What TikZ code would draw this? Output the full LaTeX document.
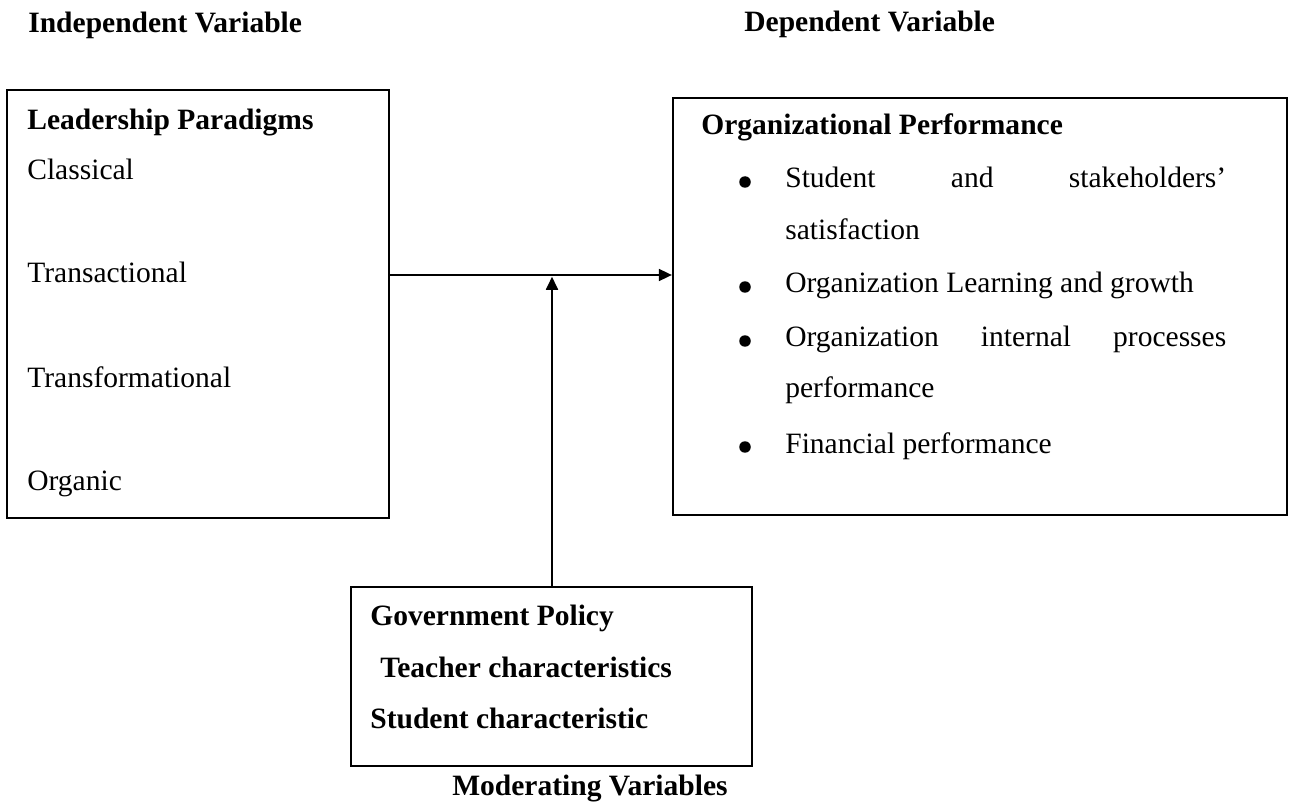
\documentclass[tikz,border=0pt]{standalone}
\usepackage{fontspec}
\setmainfont{Liberation Serif}
\usetikzlibrary{fit,arrows.meta}

\begin{document}
\begin{tikzpicture}
	[x=0.02cm, y=-0.02cm,
	font=\fontsize{16.8}{20}\selectfont,
	box/.style={draw, line width=1.3pt, inner sep=0pt},
	item/.style={anchor=base west, inner sep=0pt},
	head/.style={item, font=\fontsize{16.8}{20}\selectfont\bfseries},
	dot/.style={circle, fill, inner sep=0pt, minimum size=0.23cm},
	arr/.style={line width=1pt, -{Triangle[length=0.26cm, width=0.24cm]}}]
	\useasboundingbox (0,0) rectangle (1292,804);

	% the three boxes
	\node[box, fit={(7,90) (389,518)}] (lead) {};
	\node[box, fit={(673,98) (1287,515)}] (perf) {};
	\node[box, fit={(351,587) (752,766)}] (mod) {};

	% captions
	\node[head] (indep) at (28,33) {Independent Variable};
	\node[head] (dep) at (744,32) {Dependent Variable};
	\node[head] (moder) at (452,795) {Moderating Variables};

	% independent side
	\node[head] (leadtitle) at (27,130) {Leadership Paradigms};
	\foreach \txt/\yy [count=\i] in {Classical/180, Transactional/283, Transformational/387, Organic/490}
		\node[item] (para\i) at (27,\yy) {\txt};

	% dependent side
	\node[head] (perftitle) at (701,135) {Organizational Performance};
	\foreach \yy [count=\i] in {188, 293, 347, 453}
		\node[dot] (dot\i) at (745,\yy-6) {};
	\node[item] (perf1) at (785,188) {\makebox[8.82cm][s]{Student and stakeholders’}};
	\node[item] (perf1b) at (785,240) {satisfaction};
	\node[item] (perf2) at (785,293) {Organization Learning and growth};
	\node[item] (perf3) at (785,347) {\makebox[8.82cm][s]{Organization internal processes}};
	\node[item] (perf3b) at (785,398) {performance};
	\node[item] (perf4) at (785,453) {Financial performance};

	% moderating side
	\node[head] (mod1) at (370,625) {Government Policy};
	\node[head] (mod2) at (380,677) {Teacher characteristics};
	\node[head] (mod3) at (370,728) {Student characteristic};

	% arrows
	\coordinate (join) at (552,275);
	\draw[arr] (lead.east |- join) -- (perf.west |- join);
	\draw[arr, shorten >=1pt] (mod.north -| join) -- (join);
\end{tikzpicture}
\end{document}
